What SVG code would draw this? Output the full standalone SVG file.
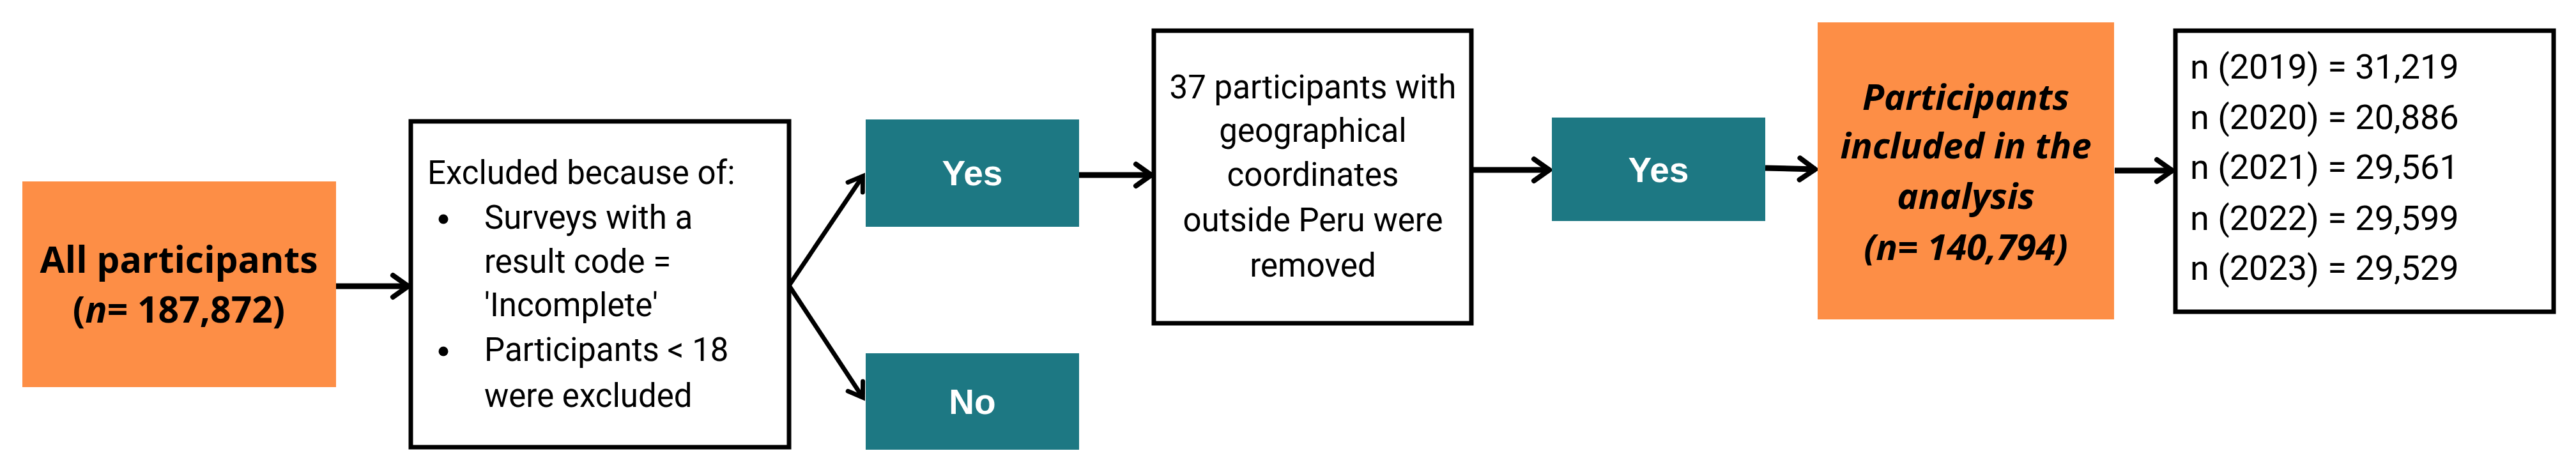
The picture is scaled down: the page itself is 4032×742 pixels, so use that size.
<svg xmlns="http://www.w3.org/2000/svg" width="4032" height="742" viewBox="0 0 4032 742">
<style>
.orange{fill:#FD8E46}
.teal{fill:#1D7883}
.box{fill:#fff;stroke:#000;stroke-width:7}
.otxt{font-family:"Open Sans","Noto Sans",sans-serif;font-weight:700;font-size:57px;fill:#000;text-anchor:middle}
.oit{font-style:italic;font-size:56px}
.ttxt{font-family:"Liberation Sans",Arial,sans-serif;font-weight:700;font-size:55px;fill:#fff;text-anchor:middle}
.btxt{font-family:Roboto,"Liberation Sans",sans-serif;font-size:51px;fill:#000}
.ntxt{font-family:Roboto,"Liberation Sans",sans-serif;font-size:54px;fill:#000}
.conn{fill:none;stroke:#000;stroke-width:9}
.conn2{fill:none;stroke:#000;stroke-width:7}
</style>
<defs>
<marker id="ah" markerUnits="userSpaceOnUse" markerWidth="40" markerHeight="44" refX="31" refY="22" orient="auto">
<path d="M6,5 L30,22 L6,39" fill="none" stroke="#000" stroke-width="8" stroke-linecap="round" stroke-linejoin="miter"/>
</marker>
<marker id="ah2" markerUnits="userSpaceOnUse" markerWidth="40" markerHeight="40" refX="30" refY="20" orient="auto">
<path d="M8,6 L29,20 L8,34" fill="none" stroke="#000" stroke-width="7" stroke-linecap="round"/>
</marker>
</defs>

<g id="connectors">
<line class="conn" x1="526" y1="448" x2="640" y2="448" marker-end="url(#ah)"/>
<line class="conn2" x1="1235" y1="447" x2="1351" y2="275" marker-end="url(#ah2)"/>
<line class="conn2" x1="1235" y1="447" x2="1351" y2="623" marker-end="url(#ah2)"/>
<line class="conn" x1="1689" y1="274" x2="1803" y2="274" marker-end="url(#ah)"/>
<line class="conn" x1="2303" y1="266" x2="2426" y2="266" marker-end="url(#ah)"/>
<line class="conn" x1="2763" y1="263" x2="2842" y2="265" marker-end="url(#ah)"/>
<line class="conn" x1="3310" y1="267" x2="3401" y2="267" marker-end="url(#ah)"/>
</g>

<g id="all-participants">
<rect class="orange" x="35" y="284" width="491" height="322"/>
<text class="otxt" x="280" y="427">All participants</text>
<text class="otxt" x="280" y="505">(<tspan font-style="italic">n</tspan>= 187,872)</text>
</g>

<g id="excluded">
<rect class="box" x="643" y="190" width="592" height="510"/>
<text class="btxt" x="669" y="288">Excluded because of:</text>
<circle cx="694" cy="343" r="7.5" fill="#000"/>
<text class="btxt" x="758" y="358">Surveys with a</text>
<text class="btxt" x="758" y="427">result code =</text>
<text class="btxt" x="758" y="495">'Incomplete'</text>
<circle cx="694" cy="550" r="7.5" fill="#000"/>
<text class="btxt" x="758" y="565">Participants &lt; 18</text>
<text class="btxt" x="758" y="637">were excluded</text>
</g>

<g id="yes1">
<rect class="teal" x="1355" y="187" width="334" height="168"/>
<text class="ttxt" x="1522" y="290">Yes</text>
</g>

<g id="no">
<rect class="teal" x="1355" y="553" width="334" height="151"/>
<text class="ttxt" x="1522" y="648">No</text>
</g>

<g id="geo">
<rect class="box" x="1806" y="48" width="497" height="458"/>
<text class="btxt" x="2055" y="154" text-anchor="middle">37 participants with</text>
<text class="btxt" x="2055" y="222" text-anchor="middle">geographical</text>
<text class="btxt" x="2055" y="291" text-anchor="middle">coordinates</text>
<text class="btxt" x="2055" y="362" text-anchor="middle">outside Peru were</text>
<text class="btxt" x="2055" y="433" text-anchor="middle">removed</text>
</g>

<g id="yes2">
<rect class="teal" x="2429" y="184" width="334" height="162"/>
<text class="ttxt" x="2596" y="285">Yes</text>
</g>

<g id="included">
<rect class="orange" x="2845" y="35" width="464" height="465"/>
<text class="otxt oit" x="3077" y="172">Participants</text>
<text class="otxt oit" x="3077" y="248">included in the</text>
<text class="otxt oit" x="3077" y="327">analysis</text>
<text class="otxt oit" x="3077" y="407">(n= 140,794)</text>
</g>

<g id="years">
<rect class="box" x="3405" y="48" width="592" height="440"/>
<text class="ntxt" x="3428" y="123">n (2019) = 31,219</text>
<text class="ntxt" x="3428" y="202">n (2020) = 20,886</text>
<text class="ntxt" x="3428" y="280">n (2021) = 29,561</text>
<text class="ntxt" x="3428" y="360">n (2022) = 29,599</text>
<text class="ntxt" x="3428" y="438">n (2023) = 29,529</text>
</g>
</svg>
